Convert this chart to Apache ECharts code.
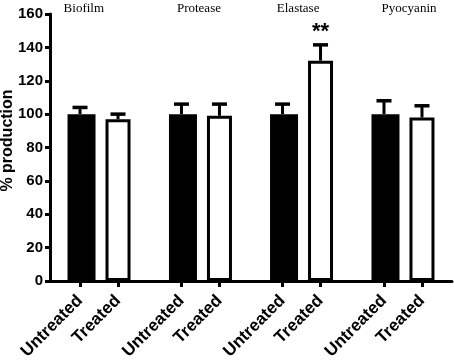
<!DOCTYPE html>
<html>
<head>
<meta charset="utf-8">
<script src="https://cdn.jsdelivr.net/npm/echarts@6/dist/echarts.min.js"></script>
<style>
  html, body { margin: 0; padding: 0; background: #fff; }
  #chart { width: 454px; height: 363px; }
</style>
</head>
<body>
<div id="chart"></div>
<script>
// groups and values
let groups = ['Biofilm', 'Protease', 'Elastase', 'Pyocyanin']
let untreated = [100, 100, 100, 100]
let untreatedErr = [4, 6, 6, 8]
let treated = [97, 99, 132, 98]
let treatedErr = [3, 7, 9.5, 7]
let signif = ['', '', '**', '']
// x slots (value axis) for each bar
let xUntreated = [0, 2.67, 5.33, 8]
let xTreated = [1, 3.67, 6.33, 9]
let titleX = [0.1, 3.13, 5.74, 8.66]

let tickPos = []
let tickName = []
for (let i = 0; i < groups.length; i++) {
    tickPos.push(xUntreated[i], xTreated[i])
    tickName.push('Untreated', 'Treated')
}

let chart = echarts.init(document.querySelector('#chart'))

function errItem(params, api) {
    let x = api.value(0)
    let top = api.coord([x, api.value(1)])
    let end = api.coord([x, api.value(1) + api.value(2)])
    return {
        type: 'group',
        children: [
            { type: 'line', shape: { x1: top[0], y1: top[1], x2: end[0], y2: end[1] }, style: { stroke: '#000', lineWidth: 3 } },
            { type: 'line', shape: { x1: end[0] - 7.5, y1: end[1], x2: end[0] + 7.5, y2: end[1] }, style: { stroke: '#000', lineWidth: 3.5 } }
        ]
    }
}

let option = {
    backgroundColor: '#fff',
    animation: false,
    grid: { left: 50, right: 2, top: 14, bottom: 82, outerBoundsMode: 'none', containLabel: false },
    xAxis: {
        type: 'value',
        min: -0.79,
        max: 9.79,
        splitLine: { show: false },
        axisLine: { onZero: false, lineStyle: { color: '#000', width: 3 } },
        axisTick: { customValues: tickPos, length: 6, lineStyle: { color: '#000', width: 3 } },
        axisLabel: {
            customValues: tickPos,
            rotate: 45,
            margin: 17,
            color: '#000',
            fontFamily: 'Liberation Sans',
            fontWeight: 'bold',
            fontSize: 17,
            formatter: function (v) {
                let best = 0
                for (let i = 0; i < tickPos.length; i++) {
                    if (Math.abs(tickPos[i] - v) < Math.abs(tickPos[best] - v)) best = i
                }
                return tickName[best]
            }
        }
    },
    yAxis: {
        type: 'value',
        min: 0,
        max: 160,
        interval: 20,
        name: '% production',
        nameLocation: 'middle',
        nameGap: 34,
        nameMoveOverlap: false,
        nameTextStyle: { color: '#000', fontFamily: 'Liberation Sans', fontWeight: 'bold', fontSize: 16, padding: [0, 0, 0, 14] },
        splitLine: { show: false },
        axisLine: { show: true, onZero: false, lineStyle: { color: '#000', width: 3 } },
        axisTick: { show: true, length: 5, lineStyle: { color: '#000', width: 3 } },
        axisLabel: {
            margin: 7,
            color: '#000',
            fontFamily: 'Liberation Sans',
            fontWeight: 'bold',
            fontSize: 15
        }
    },
    series: [
        {
            name: 'Untreated',
            type: 'bar',
            barWidth: 28,
            barGap: '-100%',
            itemStyle: { color: '#000' },
            data: xUntreated.map((x, i) => [x, untreated[i]])
        },
        {
            name: 'Treated',
            type: 'bar',
            barWidth: 25,
            barGap: '-100%',
            itemStyle: { color: '#fff', borderColor: '#000', borderWidth: 3 },
            data: xTreated.map((x, i) => [x, treated[i]])
        },
        {
            type: 'custom',
            renderItem: errItem,
            z: 1,
            data: xUntreated.map((x, i) => [x, untreated[i], untreatedErr[i]])
        },
        {
            type: 'custom',
            renderItem: function (params, api) {
                let g = errItem(params, api)
                let s = signif[params.dataIndex]
                if (s) {
                    let end = api.coord([api.value(0), api.value(1) + api.value(2)])
                    g.children.push({
                        type: 'text',
                        x: end[0], y: end[1] - 2,
                        style: { text: s, fill: '#000', font: 'bold 22px "Liberation Sans"', align: 'center', verticalAlign: 'bottom' }
                    })
                }
                return g
            },
            z: 1,
            data: xTreated.map((x, i) => [x, treated[i], treatedErr[i]])
        },
        {
            type: 'custom',
            clip: false,
            renderItem: function (params, api) {
                let p = api.coord([api.value(0), 160])
                return {
                    type: 'text',
                    x: p[0], y: p[1] - 5,
                    style: { text: groups[params.dataIndex], fill: '#000', font: '13px "Liberation Serif"', align: 'center', verticalAlign: 'middle' }
                }
            },
            data: titleX.map(x => [x, 160])
        }
    ]
}

chart.setOption(option)
</script>
</body>
</html>
